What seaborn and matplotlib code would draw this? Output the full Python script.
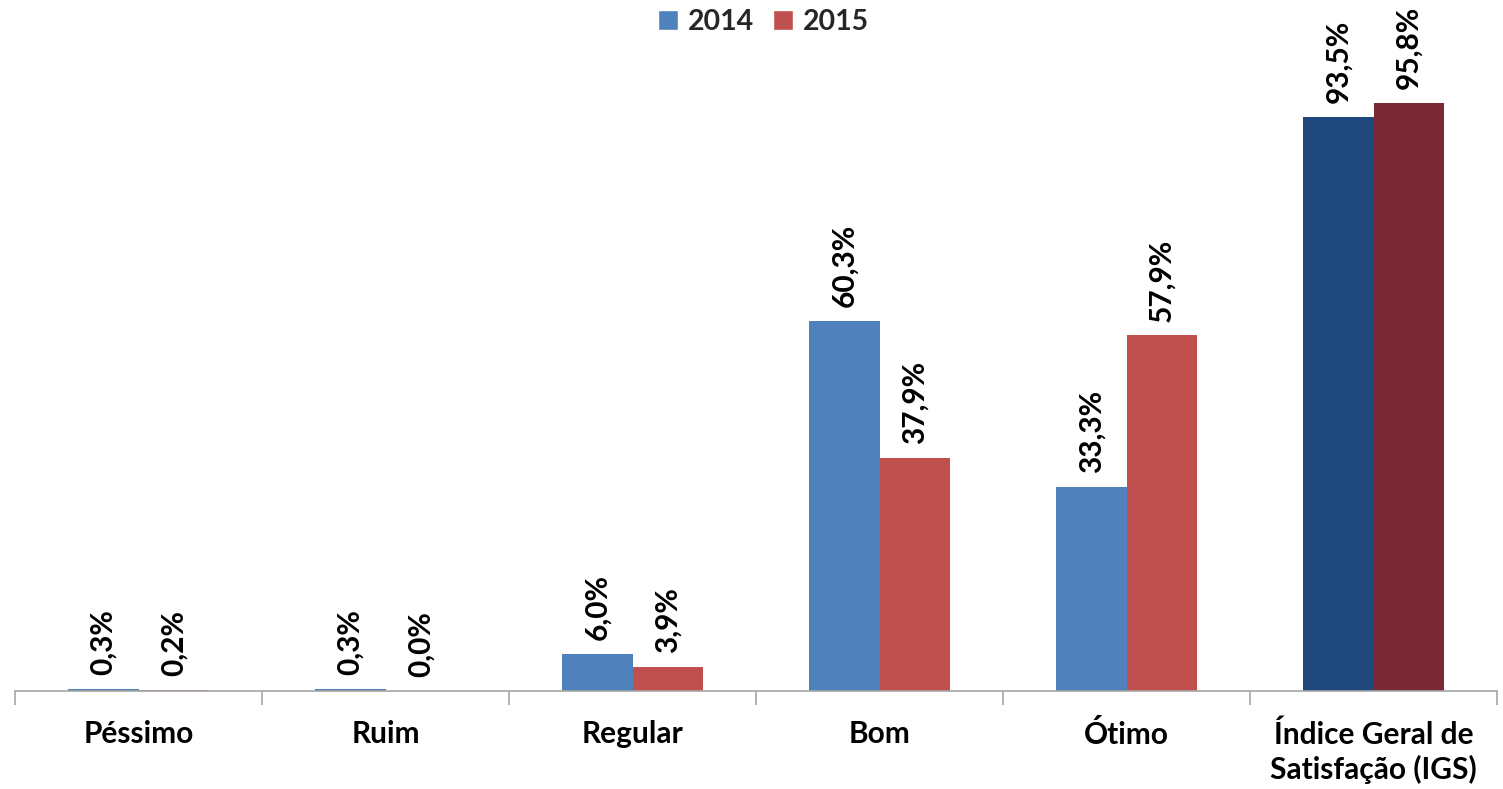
import matplotlib
matplotlib.use("Agg")
import matplotlib.pyplot as plt
import seaborn as sns
import pandas as pd
import numpy as np

categories = ["Péssimo", "Ruim", "Regular", "Bom", "Ótimo", "Índice Geral de\nSatisfação (IGS)"]
years = ["2014", "2015"]
values_2014 = [0.3, 0.3, 6.0, 60.3, 33.3, 93.5]
values_2015 = [0.2, 0.0, 3.9, 37.9, 57.9, 95.8]
labels_2014 = ["0,3%", "0,3%", "6,0%", "60,3%", "33,3%", "93,5%"]
labels_2015 = ["0,2%", "0,0%", "3,9%", "37,9%", "57,9%", "95,8%"]

colors = {"2014": "#4F81BD", "2015": "#C0504D"}
dark = {"2014": "#1F497D", "2015": "#7B2A35"}

df = pd.DataFrame({
    "cat": categories * 2,
    "year": ["2014"] * 6 + ["2015"] * 6,
    "val": values_2014 + values_2015,
})

sns.set_theme(style="white")
plt.rcParams['font.family'] = ['Lato', 'DejaVu Sans']

fig = plt.figure(figsize=(15.03, 7.89), dpi=100)
ax = fig.add_axes([15/1503, 1 - 691/789, (1497 - 15)/1503, (691 - 77)/789])

sns.barplot(data=df, x="cat", y="val", hue="year", order=categories, hue_order=years,
            palette=colors, width=0.57, saturation=1, ax=ax, legend=True, errorbar=None)

for cont, yr, labs in zip(ax.containers, years, [labels_2014, labels_2015]):
    for i, (bar, lab) in enumerate(zip(cont.patches, labs)):
        bar.set_edgecolor("none")
        if i == len(categories) - 1:
            bar.set_facecolor(dark[yr])
        x = bar.get_x() + bar.get_width() / 2
        h = bar.get_height()
        ax.annotate(lab, (x, h), xytext=(0, 10), textcoords="offset points",
                    rotation=90, ha="center", va="bottom", fontsize=21.5,
                    fontweight="bold", color="black", annotation_clip=False)

ax.set_xlim(-0.5, 5.5)
ax.set_ylim(0, 100)
ax.set_xlabel("")
ax.set_ylabel("")
ax.set_yticks([])
for s in ["top", "left", "right"]:
    ax.spines[s].set_visible(False)
ax.spines["bottom"].set_color("#A6A6A6")
ax.spines["bottom"].set_linewidth(1.2)
ax.set_xticks(range(len(categories)))
ax.set_xticklabels(categories, fontsize=21.5, fontweight="bold", color="black", linespacing=1.25)
ax.set_xticks(np.arange(-0.5, 6, 1), minor=True)
ax.tick_params(axis="x", which="major", length=0, pad=21)
ax.tick_params(axis="x", which="minor", length=10, color="#A6A6A6", width=1.2, bottom=True)

leg = ax.legend(loc="upper center", bbox_to_anchor=(0.505, 1.13), ncol=2, frameon=False,
                prop={"weight": "bold", "size": 20.5}, handlelength=0.7,
                handleheight=0.7, handletextpad=0.35, columnspacing=0.65, borderaxespad=0)

fig.savefig("out.png", dpi=100)
